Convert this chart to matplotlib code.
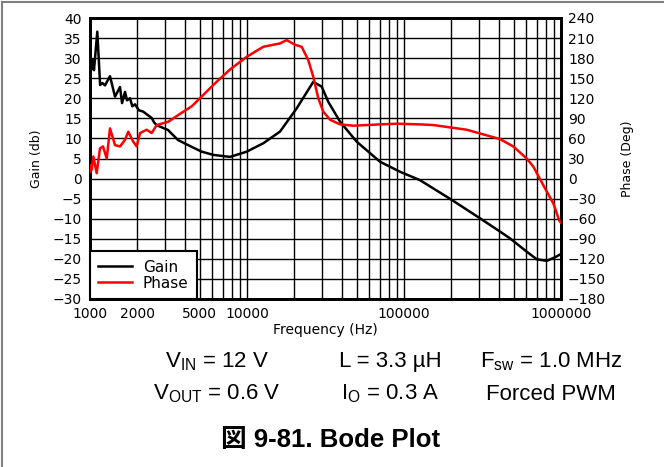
import numpy as np
import matplotlib
matplotlib.use("Agg")
import matplotlib.pyplot as plt
from matplotlib import font_manager
from matplotlib.lines import Line2D

# ---------------------------------------------
# DATA
# ---------------------------------------------
gain_freq = [1000, 1015, 1040, 1060, 1113, 1160, 1200, 1246, 1290, 1341,
             1443, 1553, 1600, 1671, 1720, 1797, 1860, 1935, 2050, 2176,
             2300, 2472, 2560, 2659, 3140, 3635, 4444,
             5147, 6101, 7795, 9957, 12700, 16230, 20730, 23410, 26440,
             29910, 32950, 39120, 49950, 70330, 94300, 126500, 201300,
             304900, 408800, 473300, 604500, 700200, 811000, 915900, 1000000]
gain_db = [27.0, 27.0, 29.5, 27.0, 36.6, 23.3, 23.8, 23.2, 24.3, 25.5,
           20.4, 22.8, 18.8, 21.6, 19.5, 20.0, 18.0, 18.5, 17.0, 16.7,
           16.0, 15.1, 14.0, 13.3, 12.1, 9.6, 7.9,
           6.7, 5.9, 5.4, 6.7, 8.8, 11.7, 17.5, 20.8, 24.1,
           22.9, 19.1, 14.2, 9.2, 4.2, 1.7, -0.4, -5.3,
           -9.9, -13.2, -14.9, -18.2, -20.1, -20.5, -19.6, -18.8]

phase_freq = [1000, 1010, 1025, 1050, 1103, 1158, 1210, 1278, 1341, 1443,
              1553, 1671, 1753, 1887, 1984, 2082, 2297, 2472, 2659, 3154,
              3651, 4444, 5269, 6101, 7795, 9957, 12700, 16230, 17900,
              20220, 22300, 24570, 26440, 28450, 30620, 33800, 39120,
              47540, 70330, 89850, 126500, 153700, 250800, 408800, 496900,
              604500, 666200, 771500, 893400, 975500, 1000000]
phase_deg = [10, 20, 13, 33, 8, 45, 48, 30, 75, 50,
             48, 58, 70, 55, 48, 68, 73, 68, 80, 85,
             95, 108, 125, 140, 163, 182, 197, 202, 207,
             200, 197, 177, 152, 120, 100, 88, 81,
             79, 81, 82, 81, 80, 73, 59, 48,
             30, 18, -10, -37, -63, -66]

x_ticks = [1000, 2000, 5000, 10000, 100000, 1000000]
gain_ticks = list(range(-30, 45, 5))
phase_ticks = list(range(-180, 270, 30))

names = {f.name for f in font_manager.fontManager.ttflist}
narrow = "Liberation Sans Narrow" if "Liberation Sans Narrow" in names else "Liberation Sans"

plt.rcParams["font.family"] = ["DejaVu Sans"]
plt.rcParams["mathtext.fontset"] = "custom"
plt.rcParams["mathtext.rm"] = narrow
plt.rcParams["mathtext.default"] = "rm"

fig = plt.figure(figsize=(6.64, 4.67), dpi=100)
ax = fig.add_axes([90 / 664, 1 - 299 / 467, 471 / 664, 281 / 467])
ax2 = ax.twinx()

# grid on every decade step
grid_x = [m * 10 ** d for d in range(3, 6) for m in range(1, 10)] + [1000000]
for gx in grid_x:
    ax.axvline(gx, color="black", lw=1.0, zorder=1)
for gy in gain_ticks:
    ax.axhline(gy, color="black", lw=1.0, zorder=1)

l1, = ax.plot(gain_freq, gain_db, color="black", lw=1.8, zorder=3, label="Gain")
l2, = ax2.plot(phase_freq, phase_deg, color="red", lw=1.8, zorder=3, label="Phase")

ax.set_xscale("log")
ax.set_xlim(1000, 1000000)
ax.set_ylim(-30, 40)
ax2.set_ylim(-180, 240)
ax.set_xticks(x_ticks)
ax.set_xticklabels([str(t) for t in x_ticks])
ax.xaxis.set_minor_locator(matplotlib.ticker.NullLocator())
ax.set_yticks(gain_ticks)
ax2.set_yticks(phase_ticks)

ax.tick_params(axis="both", length=0, labelsize=10)
ax.tick_params(axis="y", pad=6)
ax.tick_params(axis="x", pad=5.5)
ax2.tick_params(axis="y", length=0, labelsize=10, pad=5)

for a in (ax, ax2):
    for s in a.spines.values():
        s.set_linewidth(2.0)
        s.set_color("black")

ax.set_ylabel("Gain (db)", fontsize=9, labelpad=7)
ax2.set_ylabel("Phase (Deg)", fontsize=9, labelpad=11)
ax.set_xlabel("Frequency (Hz)", fontsize=10, labelpad=2)

leg = ax2.legend(handles=[l1, l2], loc="lower left", bbox_to_anchor=(0, 0),
                 borderaxespad=0, fancybox=False, edgecolor="black",
                 framealpha=1, fontsize=11, handlelength=2.2,
                 borderpad=0.55, labelspacing=0.05, handletextpad=0.7)
leg.get_frame().set_linewidth(1.5)
leg.set_zorder(10)

# conditions text
row1 = [r"V$_{\mathrm{IN}}$ = 12 V", "L = 3.3 µH", r"F$_{\mathrm{sw}}$ = 1.0 MHz"]
row2 = [r"V$_{\mathrm{OUT}}$ = 0.6 V", r"I$_{\mathrm{O}}$ = 0.3 A", "Forced PWM"]
col_x = [217, 390, 551]
for cx, t1, t2 in zip(col_x, row1, row2):
    fig.text(cx / 664, 1 - 362 / 467, t1, ha="center", va="center",
             fontsize=16, family=[narrow])
    fig.text(cx / 664, 1 - 394 / 467, t2, ha="center", va="center",
             fontsize=16, family=[narrow])

fig.text(331 / 664, 1 - 440 / 467, "図 9-81. Bode Plot", ha="center", va="center",
         fontsize=18.5, fontweight="bold", family=[narrow, "Noto Sans CJK JP"])

# gray frame on left and top
fig.add_artist(Line2D([1.5 / 664, 1.5 / 664], [0, 1 - 2 / 467], color="gray", lw=1.5))
fig.add_artist(Line2D([1.5 / 664, 1], [1 - 2 / 467, 1 - 2 / 467], color="gray", lw=1.5))

fig.savefig("out.png", dpi=100)
